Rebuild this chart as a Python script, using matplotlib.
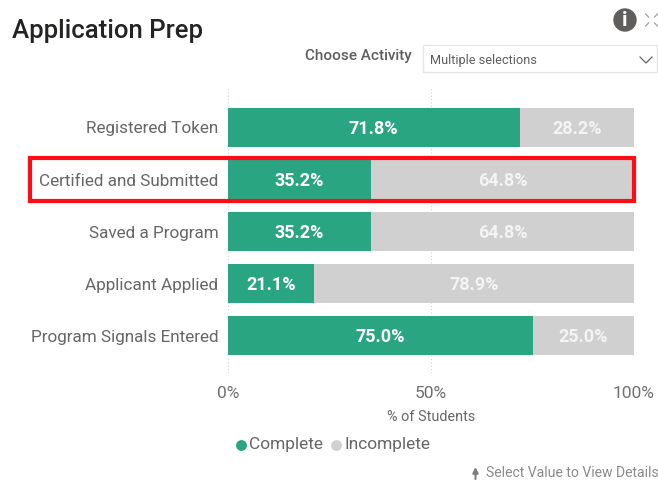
import matplotlib
matplotlib.use("Agg")
import matplotlib.pyplot as plt
from matplotlib.patches import Rectangle, Circle
from matplotlib.lines import Line2D

categories = ["Registered Token", "Certified and Submitted", "Saved a Program", "Applicant Applied", "Program Signals Entered"]
complete = [71.8, 35.2, 35.2, 21.1, 75.0]
incomplete = [28.2, 64.8, 64.8, 78.9, 25.0]
ticks = [0, 50, 100]
tick_labels = ["0%", "50%", "100%"]

GREEN = "#2aa582"
GREY = "#d0d0d0"
W, H = 658, 480
plt.rcParams["font.family"] = ["Roboto", "DejaVu Sans"]

fig = plt.figure(figsize=(W/100, H/100), dpi=100, facecolor="white")
L, R, T, B = 228.0, 634, 88, 373
ax = fig.add_axes([L/W, 1-B/H, (R-L)/W, (B-T)/H])
ax.set_xlim(0, 100)
ax.set_ylim((B-127.5)/52, (T-127.5)/52)
ax.barh(range(5), complete, height=0.76, color=GREEN, zorder=2)
ax.barh(range(5), incomplete, left=complete, height=0.76, color=GREY, zorder=2)
for i, (c, n) in enumerate(zip(complete, incomplete)):
    ax.text(c/2, i+0.025, f"{c:.1f}%", ha="center", va="center", color="white", fontsize=13, fontweight="bold", zorder=3)
    ax.text(c+n/2, i+0.025, f"{n:.1f}%", ha="center", va="center", color="#f4f4f4", fontsize=13, fontweight="bold", zorder=3)
for s in ax.spines.values():
    s.set_visible(False)
ax.set_yticks(range(5), categories, fontsize=12.3, color="#666666")
ax.set_xticks(ticks, tick_labels, fontsize=12.5, color="#707070")
ax.tick_params(length=0)
ax.tick_params(axis="y", pad=7)
ax.tick_params(axis="x", pad=9)
ax.grid(axis="x", color="#d4d4d4", linestyle=(0, (1, 2)), linewidth=0.8, zorder=1)
ax.set_axisbelow(True)

def px(x, y):
    return x/W, 1-y/H

fig.text(*px(12, 31), "Application Prep", fontsize=18.5, color="#252423", va="center", ha="left", fontweight="medium")
fig.text(*px(412, 56), "Choose Activity", fontsize=11, color="#605e5c", va="center", ha="right", fontweight="medium")
fig.text(*px(430, 60.5), "Multiple selections", fontsize=9.2, color="#605e5c", va="center", ha="left")
fig.text(*px(431, 417), "% of Students", fontsize=10.4, color="#666666", va="center", ha="center")

# overlay for non-data decoration, in pixel coordinates
ov = fig.add_axes([0, 0, 1, 1], facecolor="none")
ov.set_xlim(0, W); ov.set_ylim(H, 0); ov.axis("off")
ov.add_patch(Rectangle((29.5, 158), 604, 43, fill=False, edgecolor="#ff0d17", linewidth=3, zorder=5))
ov.add_patch(Rectangle((423, 44.5), 234, 27, fill=False, edgecolor="#e6e6e6", linewidth=1))
ov.add_line(Line2D([640, 646, 652], [57, 63, 57], color="#666666", lw=0.9))
ov.add_patch(Circle((625, 20), 11, color="#605e5c"))
ov.text(625, 20.5, "i", color="white", ha="center", va="center", fontsize=15, fontweight="bold")
for dx, dy in [(-1, -1), (1, -1), (-1, 1), (1, 1)]:
    cx, cy = 651.5+dx*4.5, 20+dy*4.5
    ov.add_line(Line2D([cx-dx*1.5, cx+dx*1.5], [cy-dy*1.5, cy+dy*1.5], color="#a8a8a8", lw=1))
ov.add_line(Line2D([240.5], [444.5], marker="o", markersize=6.8, color=GREEN, linestyle="none"))
ov.add_line(Line2D([336], [444.5], marker="o", markersize=6.8, color=GREY, linestyle="none"))
ov.text(248.5, 444.5, "Complete", fontsize=12.5, color="#666666", va="center", ha="left")
ov.text(345, 444.5, "Incomplete", fontsize=12.5, color="#666666", va="center", ha="left")
ov.annotate("", xy=(475.5, 467), xytext=(475.5, 479), arrowprops=dict(arrowstyle="-|>", color="#7f7f7f", lw=1.5, mutation_scale=8, shrinkA=0, shrinkB=0))
ov.text(486, 473, "Select Value to View Details", fontsize=10.1, color="#8a8a8a", va="center", ha="left")

fig.savefig("out.png", dpi=100)
